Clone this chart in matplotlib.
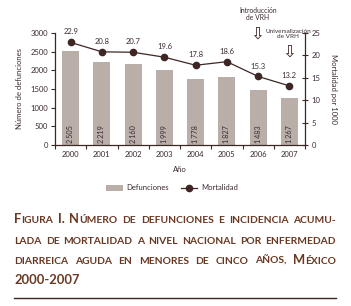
import matplotlib
matplotlib.use("Agg")
import matplotlib.pyplot as plt
from matplotlib.lines import Line2D
from matplotlib.patches import Patch

years = ["2000", "2001", "2002", "2003", "2004", "2005", "2006", "2007"]
defunciones = [2505, 2219, 2160, 1999, 1778, 1827, 1483, 1267]
defunciones_lbl = ["2\u2009505", "2\u2009219", "2\u2009160", "1\u2009999", "1\u2009778", "1\u2009827", "1\u2009483", "1\u2009267"]
mortalidad = [22.9, 20.8, 20.7, 19.6, 17.8, 18.6, 15.3, 13.2]

BAR = "#b9aea8"
LINE = "#3d2623"
TXT = "#3a2b33"
CAP = "#6a3822"
FONT = ["Lato", "DejaVu Sans"]
plt.rcParams['font.family'] = FONT

fig = plt.figure(figsize=(3.51, 3.06), dpi=100)
ax = fig.add_axes([55/351, 1-145/306, 250/351, 112/306])
x = list(range(len(years)))
ax.bar(x, defunciones, width=0.55, color=BAR, zorder=1)
ax.set_xlim(-0.5, 7.5)
ax.set_ylim(0, 3000)
ax.set_yticks(range(0, 3001, 500))
ax.set_xticks([i - 0.5 for i in range(9)])
ax.set_xticklabels([])
ax.set_xticks(x, minor=True)
ax.set_xticklabels(years, minor=True, fontsize=5.5, color=TXT)
ax.tick_params(axis='x', which='minor', length=0, pad=4)
ax.tick_params(axis='x', which='major', length=3, width=0.8, color=LINE)
ax.tick_params(axis='y', length=3, width=0.8, color=LINE, labelsize=5.5, labelcolor=TXT, pad=2)
for s in ['top', 'right']:
    ax.spines[s].set_visible(False)
for s in ['left', 'bottom']:
    ax.spines[s].set_color(LINE)
    ax.spines[s].set_linewidth(0.9)
ax.set_ylabel("Número de defunciones", fontsize=5.5, color=TXT, labelpad=5)
ax.set_xlabel("Año", fontsize=5.5, color=TXT, labelpad=6)
for xi, lbl in zip(x, defunciones_lbl):
    ax.text(xi, 60, lbl, rotation=90, ha='center', va='bottom', fontsize=5.2, color=TXT)

ax2 = ax.twinx()
ax2.plot(x, mortalidad, color=LINE, lw=0.9, marker='o', ms=4.5, zorder=3)
ax2.set_ylim(0, 25)
ax2.set_yticks(range(0, 26, 5))
ax2.tick_params(axis='y', direction='inout', length=5, width=0.8, color=LINE, labelsize=5.5, labelcolor=TXT, pad=2)
for s in ['top', 'left', 'bottom']:
    ax2.spines[s].set_visible(False)
ax2.spines['right'].set_color(LINE)
ax2.spines['right'].set_linewidth(0.9)
ax2.set_ylabel("Mortalidad por 1000", fontsize=5.5, color=TXT, rotation=270, labelpad=12)
for xi, v in zip(x, mortalidad):
    ax2.annotate(f"{v}", (xi, v), xytext=(0, 5), textcoords='offset points',
                 ha='center', va='bottom', fontsize=5.5, color=TXT)

# annotations
fig.text(258/351, 1-14/306, "Introducción\nde VRH", ha='center', va='center', fontsize=4.9, color=TXT, linespacing=1.15)
fig.text(257/351, 1-34/306, "\u21e9", ha='center', va='center', fontsize=12, color=LINE, family="DejaVu Sans")
fig.text(288/351, 1-34/306, "Universalización\nde VRH", ha='center', va='center', fontsize=4.6, color=TXT, linespacing=1.15)
fig.text(289/351, 1-52/306, "\u21e9", ha='center', va='center', fontsize=12, color=LINE, family="DejaVu Sans")

# legend
handles = [Patch(facecolor=BAR, edgecolor='none'),
           Line2D([0], [0], color=LINE, lw=0.9, marker='o', ms=4.5)]
fig.legend(handles, ["Defunciones", "Mortalidad"], loc='center', bbox_to_anchor=(172/351, 1-188/306),
           ncol=2, frameon=False, fontsize=5.5, labelcolor=TXT, handlelength=2.2, columnspacing=1.5,
           handletextpad=0.5)

# caption with faux small caps, justified
BIG = 9.3
SMALL = 7.35
lines = [
    [[("F", BIG), ("IGURA", SMALL)], [("I.", BIG)], [("N", BIG), ("ÚMERO", SMALL)], [("DE", SMALL)],
     [("DEFUNCIONES", SMALL)], [("E", SMALL)], [("INCIDENCIA", SMALL)], [("ACUMU-", SMALL)]],
    [[("LADA", SMALL)], [("DE", SMALL)], [("MORTALIDAD", SMALL)], [("A", SMALL)], [("NIVEL", SMALL)],
     [("NACIONAL", SMALL)], [("POR", SMALL)], [("ENFERMEDAD", SMALL)]],
    [[("DIARREICA", SMALL)], [("AGUDA", SMALL)], [("EN", SMALL)], [("MENORES", SMALL)], [("DE", SMALL)],
     [("CINCO", SMALL)], [("AÑOS,", SMALL)], [("M", BIG), ("ÉXICO", SMALL)]],
    [[("2000-2007", BIG)]],
]
ys = [223, 244, 264, 284]
x0, x1 = 14 / 351, 336 / 351
fig.canvas.draw()
r = fig.canvas.get_renderer()
W = fig.bbox.width

def seg_width(t):
    bb = t.get_window_extent(renderer=r)
    return bb.width / W

for li, (words, yp) in enumerate(zip(lines, ys)):
    y = 1 - yp / 306
    objs = []
    widths = []
    for w in words:
        segs = []
        for s, sz in w:
            t = fig.text(0, y, s, fontsize=sz, fontweight='bold', color=CAP, va='baseline', ha='left')
            segs.append(t)
        objs.append(segs)
    fig.canvas.draw()
    for segs in objs:
        widths.append([seg_width(t) for t in segs])
    total = sum(sum(ws) for ws in widths)
    if len(words) > 1 and li < 3:
        gap = (x1 - x0 - total) / (len(words) - 1)
    else:
        gap = 0
    cx = x0
    for segs, ws in zip(objs, widths):
        for t, wv in zip(segs, ws):
            t.set_x(cx)
            cx += wv
        cx += gap

fig.add_artist(Line2D([14/351, 336/351], [1-298/306, 1-298/306], color=LINE, lw=1.0))

fig.savefig("out.png", dpi=100)
